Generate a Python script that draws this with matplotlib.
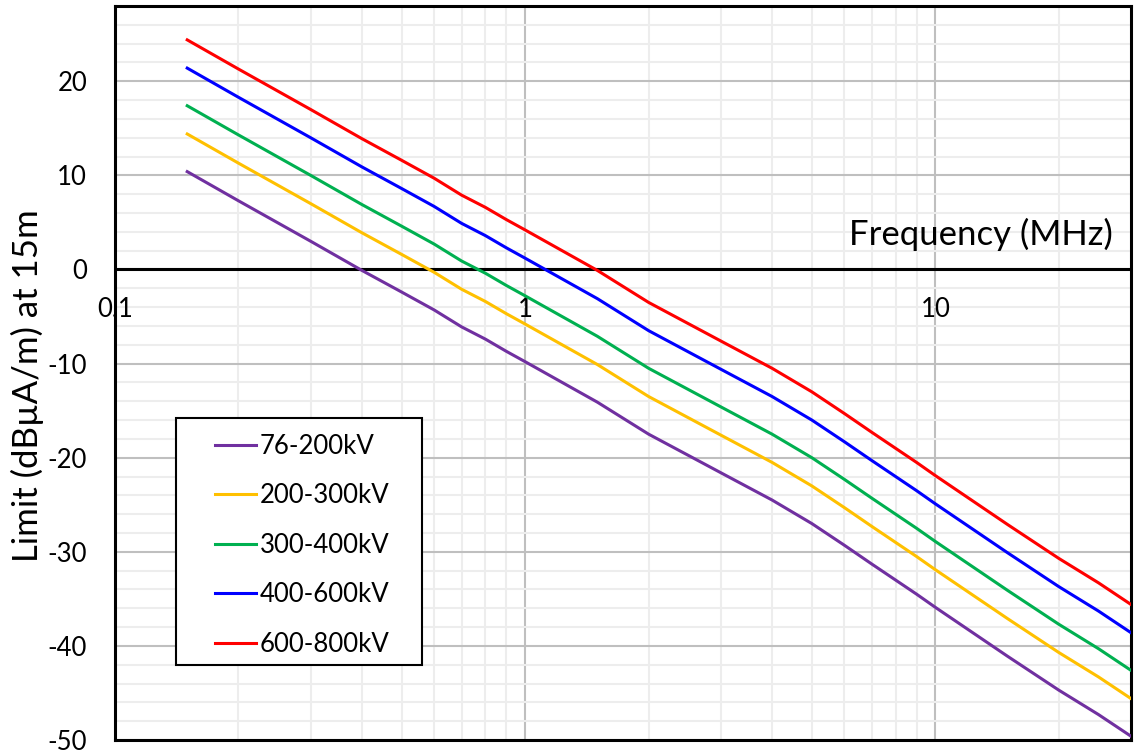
import matplotlib
matplotlib.use("Agg")
import matplotlib.pyplot as plt
from matplotlib.ticker import MultipleLocator, LogLocator, NullFormatter
from matplotlib.patches import Rectangle

plt.rcParams['font.family'] = ['Lato', 'DejaVu Sans']

# frequency points (MHz)
freq = [0.15, 0.2, 0.3, 0.4, 0.5, 0.6, 0.7, 0.8, 0.9, 1.0, 1.5, 2, 3, 4, 5,
        6, 7, 8, 9, 10, 15, 20, 25, 30]

lim_76_200 = [10.4, 7.3, 3.0, -0.1, -2.4, -4.3, -6.1, -7.4, -8.7, -9.8,
              -14.1, -17.5, -21.6, -24.5, -27.0, -29.3, -31.3, -33.0, -34.5,
              -35.9, -41.1, -44.7, -47.3, -49.6]
lim_200_300 = [14.4, 11.3, 7.0, 3.9, 1.6, -0.3, -2.1, -3.4, -4.7, -5.8,
               -10.1, -13.5, -17.6, -20.5, -23.0, -25.3, -27.3, -29.0, -30.5,
               -31.9, -37.1, -40.7, -43.3, -45.6]
lim_300_400 = [17.4, 14.3, 10.0, 6.9, 4.6, 2.7, 0.9, -0.4, -1.7, -2.8,
               -7.1, -10.5, -14.6, -17.5, -20.0, -22.3, -24.3, -26.0, -27.5,
               -28.9, -34.1, -37.7, -40.3, -42.6]
lim_400_600 = [21.4, 18.3, 14.0, 10.9, 8.6, 6.7, 4.9, 3.6, 2.3, 1.2,
               -3.1, -6.5, -10.6, -13.5, -16.0, -18.3, -20.3, -22.0, -23.5,
               -24.9, -30.1, -33.7, -36.3, -38.6]
lim_600_800 = [24.4, 21.3, 17.0, 13.9, 11.6, 9.7, 7.9, 6.6, 5.3, 4.2,
               -0.1, -3.5, -7.6, -10.5, -13.0, -15.3, -17.3, -19.0, -20.5,
               -21.9, -27.1, -30.7, -33.3, -35.6]

series_names = ['76-200kV', '200-300kV', '300-400kV', '400-600kV', '600-800kV']
series_vals = [lim_76_200, lim_200_300, lim_300_400, lim_400_600, lim_600_800]
series_cols = ['#7030A0', '#FFC000', '#00B050', '#0000FF', '#FF0000']

x_ticks = [0.1, 1, 10]
x_tick_labels = ['0.1', '1', '10']
y_ticks = [-50, -40, -30, -20, -10, 0, 10, 20]

# ---------------------------------------------------------------------------
fig = plt.figure(figsize=(11.35, 7.53), dpi=100)
fig.patch.set_facecolor('white')
ax = fig.add_axes([115 / 1135, 1 - 740 / 753, 1016 / 1135, 734 / 753])

ax.set_xscale('log')
ax.set_xlim(0.1, 30)
ax.set_ylim(-50, 28)

# grid
ax.set_xticks(x_ticks)
ax.xaxis.set_minor_locator(LogLocator(base=10, subs=range(2, 10)))
ax.xaxis.set_minor_formatter(NullFormatter())
ax.set_xticklabels([])
ax.set_yticks(y_ticks)
ax.set_yticklabels([str(v) for v in y_ticks])
ax.yaxis.set_minor_locator(MultipleLocator(2))
ax.grid(which='minor', color='#EDEDED', lw=1.5, zorder=0)
ax.grid(which='major', color='#BFBFBF', lw=1.5, zorder=0.5)
ax.set_axisbelow(True)
ax.tick_params(which='both', length=0)
ax.tick_params(axis='y', labelsize=18.5, pad=20)

for sp in ax.spines.values():
    sp.set_linewidth(2.2)
    sp.set_color('black')

# horizontal axis at y = 0
ax.axhline(0, color='black', lw=2.2, zorder=2)

for xt, lab in zip(x_ticks, x_tick_labels):
    ax.annotate(lab, xy=(xt, 0), xytext=(0, -40), textcoords='offset pixels',
                ha='center', va='center', fontsize=18.5, annotation_clip=False)

# series
for name, vals, col in zip(series_names, series_vals, series_cols):
    ax.plot(freq, vals, color=col, lw=2.2, label=name, zorder=3,
            solid_joinstyle='round')

ax.text(0.982, 0.675, 'Frequency (MHz)', transform=ax.transAxes,
        ha='right', va='baseline', fontsize=25, zorder=4)

fig.text(0.024, 1 - 386 / 753, 'Limit (dB\u00b5A/m) at 15m', rotation=90,
         ha='center', va='center', fontsize=25)

# legend box
ax.add_patch(Rectangle((0.060, 0.1022), 0.2422, 0.3365, transform=ax.transAxes,
                       facecolor='white', edgecolor='black', lw=1.5, zorder=5))
leg = ax.legend(loc='upper left', bbox_to_anchor=(0.0984, 0.417),
                frameon=False, fontsize=18.5, borderpad=0, borderaxespad=0,
                handlelength=1.6, handletextpad=0.15, labelspacing=0.95)
leg.set_zorder(6)

fig.savefig('out.png', dpi=100, facecolor='white')
